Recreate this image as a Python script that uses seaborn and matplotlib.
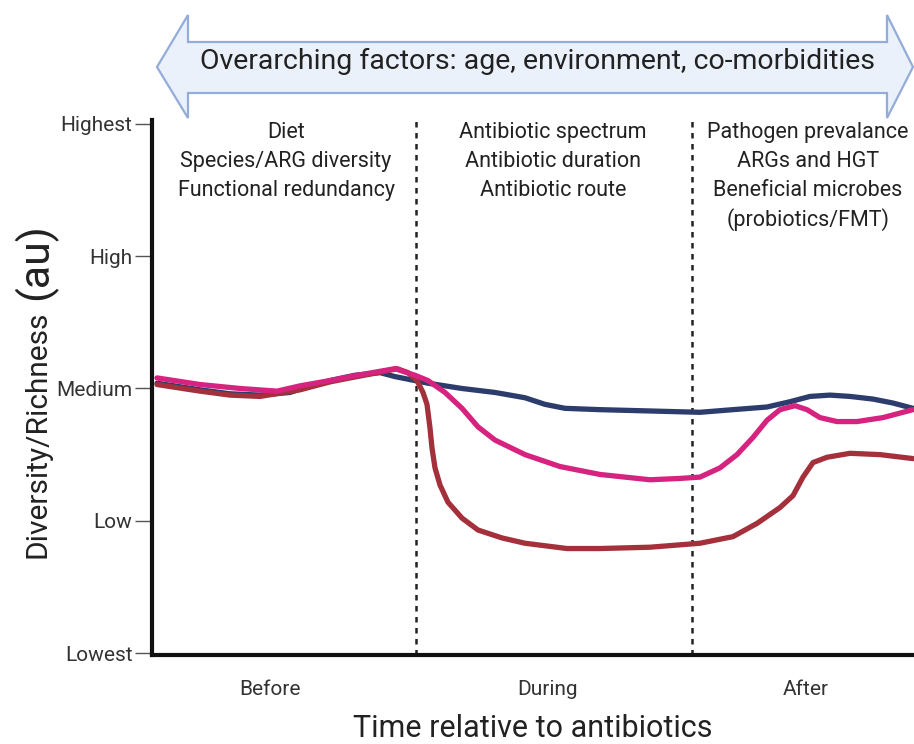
import pandas as pd
import numpy as np
import seaborn as sns
import matplotlib.pyplot as plt
from matplotlib.patches import Polygon

# time axis (arbitrary units) and diversity level (0 = Lowest ... 4 = Highest)
t_navy = [0.5, 4.8, 7.8, 10.8, 13.8, 15.8, 17.8, 20.3, 22.8, 24.3, 27.6, 31.0,
          34.3, 37.3, 39.3, 41.3, 44.8, 49.8, 54.8, 58.1, 61.5, 63.8, 65.8, 67.8,
          69.8, 72.1, 74.1, 76.1]
y_navy = [2.04, 1.99, 1.96, 1.95, 1.97, 2.02, 2.06, 2.10, 2.12, 2.09, 2.04, 2.00,
          1.97, 1.93, 1.88, 1.85, 1.84, 1.83, 1.82, 1.84, 1.86, 1.90, 1.94, 1.95,
          1.94, 1.92, 1.89, 1.85]

t_red = [0.5, 4.8, 7.8, 10.8, 14.8, 17.8, 19.8, 23.3, 24.5, 25.6, 26.5, 27.1,
         27.5, 27.8, 28.0, 28.3, 28.8, 29.6, 31.0, 32.6, 35.0, 37.3, 41.5, 44.8,
         49.8, 54.8, 58.1, 60.5, 62.8, 64.1, 65.1, 66.1, 67.5, 69.8, 72.8, 76.1]
y_red = [2.03, 1.98, 1.95, 1.94, 1.99, 2.05, 2.08, 2.13, 2.15, 2.12, 2.06, 1.97,
         1.88, 1.70, 1.55, 1.40, 1.27, 1.14, 1.02, 0.93, 0.87, 0.83, 0.79, 0.79,
         0.80, 0.83, 0.88, 0.98, 1.10, 1.19, 1.33, 1.44, 1.48, 1.51, 1.50, 1.47]

t_pink = [0.5, 4.8, 8.8, 12.5, 14.8, 17.8, 19.8, 22.8, 24.3, 26.3, 27.6, 29.3,
          31.0, 32.6, 34.3, 37.3, 40.8, 44.8, 49.8, 52.8, 54.8, 56.8, 58.5, 60.1,
          61.5, 62.8, 64.3, 65.5, 66.8, 68.5, 70.5, 73.1, 76.1]
y_pink = [2.08, 2.03, 2.00, 1.98, 2.02, 2.06, 2.09, 2.13, 2.15, 2.10, 2.06, 1.97,
          1.85, 1.71, 1.61, 1.50, 1.41, 1.35, 1.31, 1.32, 1.33, 1.40, 1.50, 1.63,
          1.76, 1.84, 1.87, 1.84, 1.78, 1.75, 1.75, 1.78, 1.84]

level_labels = ['Lowest', 'Low', 'Medium', 'High', 'Highest']
phase_labels = ['Before', 'During', 'After']
phase_centres = [11.8, 39.6, 65.4]
phase_bounds = [26.4, 54.0]

factors_before = ['Diet', 'Species/ARG diversity', 'Functional redundancy']
factors_during = ['Antibiotic spectrum', 'Antibiotic duration', 'Antibiotic route']
factors_after = ['Pathogen prevalance', 'ARGs and HGT', 'Beneficial microbes',
                 '(probiotics/FMT)']
factor_x = [13.4, 40.1, 65.6]

df = pd.concat([
    pd.DataFrame({'t': t_navy, 'level': y_navy, 'series': 'navy'}),
    pd.DataFrame({'t': t_red, 'level': y_red, 'series': 'red'}),
    pd.DataFrame({'t': t_pink, 'level': y_pink, 'series': 'pink'}),
])
colors = {'navy': '#2c3c6c', 'red': '#a3303b', 'pink': '#d6237f'}

sns.set_theme(style='white')
plt.rcParams['font.family'] = ['Roboto', 'DejaVu Sans']

fig = plt.figure(figsize=(9.14, 7.44), dpi=100)
ax = fig.add_axes([152 / 914, 89 / 744, 1 - 152 / 914, (655 - 120) / 744])

sns.lineplot(data=df, x='t', y='level', hue='series', palette=colors,
             estimator=None, sort=False, linewidth=3.8, legend=False, ax=ax,
             solid_capstyle='round', solid_joinstyle='round')

for b in phase_bounds:
    ax.axvline(b, color='#222222', linestyle=(0, (2.2, 2.2)), linewidth=1.8, zorder=0)

ax.set_xlim(0, 76.2)
ax.set_ylim(-0.015, 4.03)
ax.set_yticks(range(5))
ax.set_yticklabels(level_labels, fontsize=15, color='#333333')
ax.set_xticks(phase_centres)
ax.set_xticklabels(phase_labels, fontsize=15, color='#333333')
ax.tick_params(axis='y', left=True, length=12, width=1, color='#555555', pad=2)
ax.tick_params(axis='x', bottom=False, length=0, pad=18)
ax.set_xlabel('Time relative to antibiotics', fontsize=22, color='#222222', labelpad=11)
ax.set_ylabel('')
for s in ['top', 'right']:
    ax.spines[s].set_visible(False)
for s in ['left', 'bottom']:
    ax.spines[s].set_linewidth(3)
    ax.spines[s].set_color('#111111')

# factor lists above each phase
line_y = [3.935, 3.715, 3.495, 3.275]
for x, lines in zip(factor_x, [factors_before, factors_during, factors_after]):
    for yy, txt in zip(line_y, lines):
        ax.text(x, yy, txt, ha='center', va='center', fontsize=15.5, color='#222222')

# y label in two sizes
fig.text(38 / 914, 1 - 434 / 744, 'Diversity/Richness', rotation=90,
         ha='center', va='center', fontsize=21.5, color='#222222')
fig.text(35 / 914, 1 - 262 / 744, '(au)', rotation=90,
         ha='center', va='center', fontsize=31, color='#222222')

# overarching double arrow
px = [157, 188, 188, 887, 887, 913, 887, 887, 188, 188]
py = [67, 15, 42, 42, 15, 67, 118, 93, 93, 118]
pts = np.column_stack([np.array(px) / 914, 1 - np.array(py) / 744])
fig.add_artist(Polygon(pts, closed=True, transform=fig.transFigure,
                       facecolor='#eaf1fb', edgecolor='#93acd8', linewidth=1.6))
fig.text(538 / 914, 1 - 61 / 744, 'Overarching factors: age, environment, co-morbidities',
         ha='center', va='center', fontsize=20.5, color='#222222')

fig.savefig('out.png', dpi=100)
